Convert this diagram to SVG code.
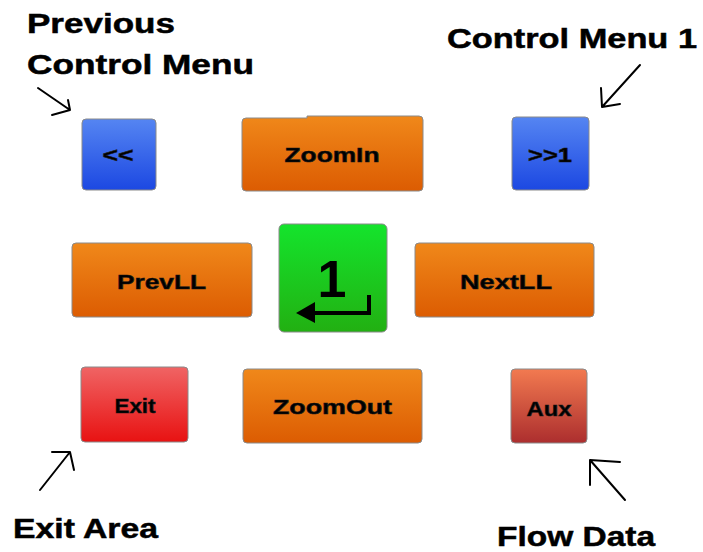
<svg xmlns="http://www.w3.org/2000/svg" width="703" height="552" viewBox="0 0 703 552">
  <defs>
    <linearGradient id="gBlue" x1="0" y1="0" x2="0" y2="1">
      <stop offset="0" stop-color="#5585f2"/>
      <stop offset="1" stop-color="#1c48e2"/>
    </linearGradient>
    <linearGradient id="gOrange" x1="0" y1="0" x2="0" y2="1">
      <stop offset="0" stop-color="#f0881a"/>
      <stop offset="1" stop-color="#dc5c02"/>
    </linearGradient>
    <linearGradient id="gGreen" x1="0" y1="0" x2="0" y2="1">
      <stop offset="0" stop-color="#14e42c"/>
      <stop offset="1" stop-color="#22b012"/>
    </linearGradient>
    <linearGradient id="gRed" x1="0" y1="0" x2="0" y2="1">
      <stop offset="0" stop-color="#f06464"/>
      <stop offset="1" stop-color="#e81212"/>
    </linearGradient>
    <linearGradient id="gAux" x1="0" y1="0" x2="0" y2="1">
      <stop offset="0" stop-color="#f27a50"/>
      <stop offset="1" stop-color="#ac2e2e"/>
    </linearGradient>
  </defs>
  <style>
    .btn { stroke: #8a8a8a; stroke-width: 1; }
    .lbl { font-family: "Liberation Sans", Arial, sans-serif; font-weight: bold; font-size: 21px; fill: #000; stroke: #1a1a1a; stroke-width: 0.6; text-anchor: middle; }
    .cap { font-family: "Liberation Sans", Arial, sans-serif; font-weight: bold; font-size: 28px; fill: #000; stroke: #000; stroke-width: 0.5; }
    .pen { fill: none; stroke: #000; stroke-width: 2; stroke-linecap: round; stroke-linejoin: round; }
  </style>

  <!-- captions -->
  <g id="captions">
    <text class="cap" x="27" y="33" textLength="148" lengthAdjust="spacingAndGlyphs">Previous</text>
    <text class="cap" x="27" y="74" textLength="227" lengthAdjust="spacingAndGlyphs">Control Menu</text>
    <text class="cap" x="447" y="48" textLength="250" lengthAdjust="spacingAndGlyphs">Control Menu 1</text>
    <text class="cap" x="13" y="538" textLength="145" lengthAdjust="spacingAndGlyphs">Exit Area</text>
    <text class="cap" x="497" y="546" textLength="158" lengthAdjust="spacingAndGlyphs">Flow Data</text>
  </g>

  <!-- hand-drawn pointer arrows -->
  <g id="connectors">
    <path class="pen" d="M38 88 L70 110 M52 115 L70 110 L68 100"/>
    <path class="pen" d="M640 65 L602 107 M601 88 L602 107 L620 104"/>
    <path class="pen" d="M40 490 L70 452 M52 452 L70 452 L74 470"/>
    <path class="pen" d="M625 500 L590 460 M620 462 L590 460 L590 485"/>
  </g>

  <g id="prev-menu">
    <rect class="btn" x="82" y="119" width="74" height="71" rx="4" fill="url(#gBlue)"/>
    <text class="lbl" x="118" y="162" font-size="20" textLength="31" lengthAdjust="spacingAndGlyphs">&lt;&lt;</text>
  </g>

  <g id="zoom-in">
    <path class="btn" d="M246 118 H307 V116 H419 Q423 116 423 120 V187 Q423 191 419 191 H246 Q242 191 242 187 V122 Q242 118 246 118 Z" fill="url(#gOrange)"/>
    <text class="lbl" x="332" y="162" textLength="95" lengthAdjust="spacingAndGlyphs">ZoomIn</text>
  </g>

  <g id="next-menu">
    <rect class="btn" x="512" y="117" width="77" height="73" rx="4" fill="url(#gBlue)"/>
    <text class="lbl" x="550" y="162" font-size="20" textLength="44" lengthAdjust="spacingAndGlyphs">&gt;&gt;1</text>
  </g>

  <g id="prev-ll">
    <rect class="btn" x="72" y="243" width="180" height="74" rx="4" fill="url(#gOrange)"/>
    <text class="lbl" x="161.5" y="289" textLength="89" lengthAdjust="spacingAndGlyphs">PrevLL</text>
  </g>

  <g id="enter">
    <rect class="btn" x="279" y="224" width="108" height="108" rx="5" fill="url(#gGreen)"/>
    <text x="332" y="297" font-family="Liberation Sans, Arial, sans-serif" font-weight="bold" font-size="52" text-anchor="middle" fill="#000">1</text>
    <path d="M367 295 H371 V315 H315 V323 L296 313 L315 302 V311 H367 Z" fill="#000"/>
  </g>

  <g id="next-ll">
    <rect class="btn" x="415" y="243" width="179" height="74" rx="4" fill="url(#gOrange)"/>
    <text class="lbl" x="506" y="289" textLength="92" lengthAdjust="spacingAndGlyphs">NextLL</text>
  </g>

  <g id="exit">
    <rect class="btn" x="81" y="367" width="107" height="75" rx="4" fill="url(#gRed)"/>
    <text class="lbl" x="135" y="413" font-size="19" textLength="41" lengthAdjust="spacingAndGlyphs">Exit</text>
  </g>

  <g id="zoom-out">
    <rect class="btn" x="243" y="369" width="179" height="74" rx="4" fill="url(#gOrange)"/>
    <text class="lbl" x="332.5" y="414" textLength="119" lengthAdjust="spacingAndGlyphs">ZoomOut</text>
  </g>

  <g id="aux">
    <rect class="btn" x="511" y="369" width="76" height="74" rx="4" fill="url(#gAux)"/>
    <text class="lbl" x="549" y="416" font-size="20" textLength="45" lengthAdjust="spacingAndGlyphs">Aux</text>
  </g>
</svg>
